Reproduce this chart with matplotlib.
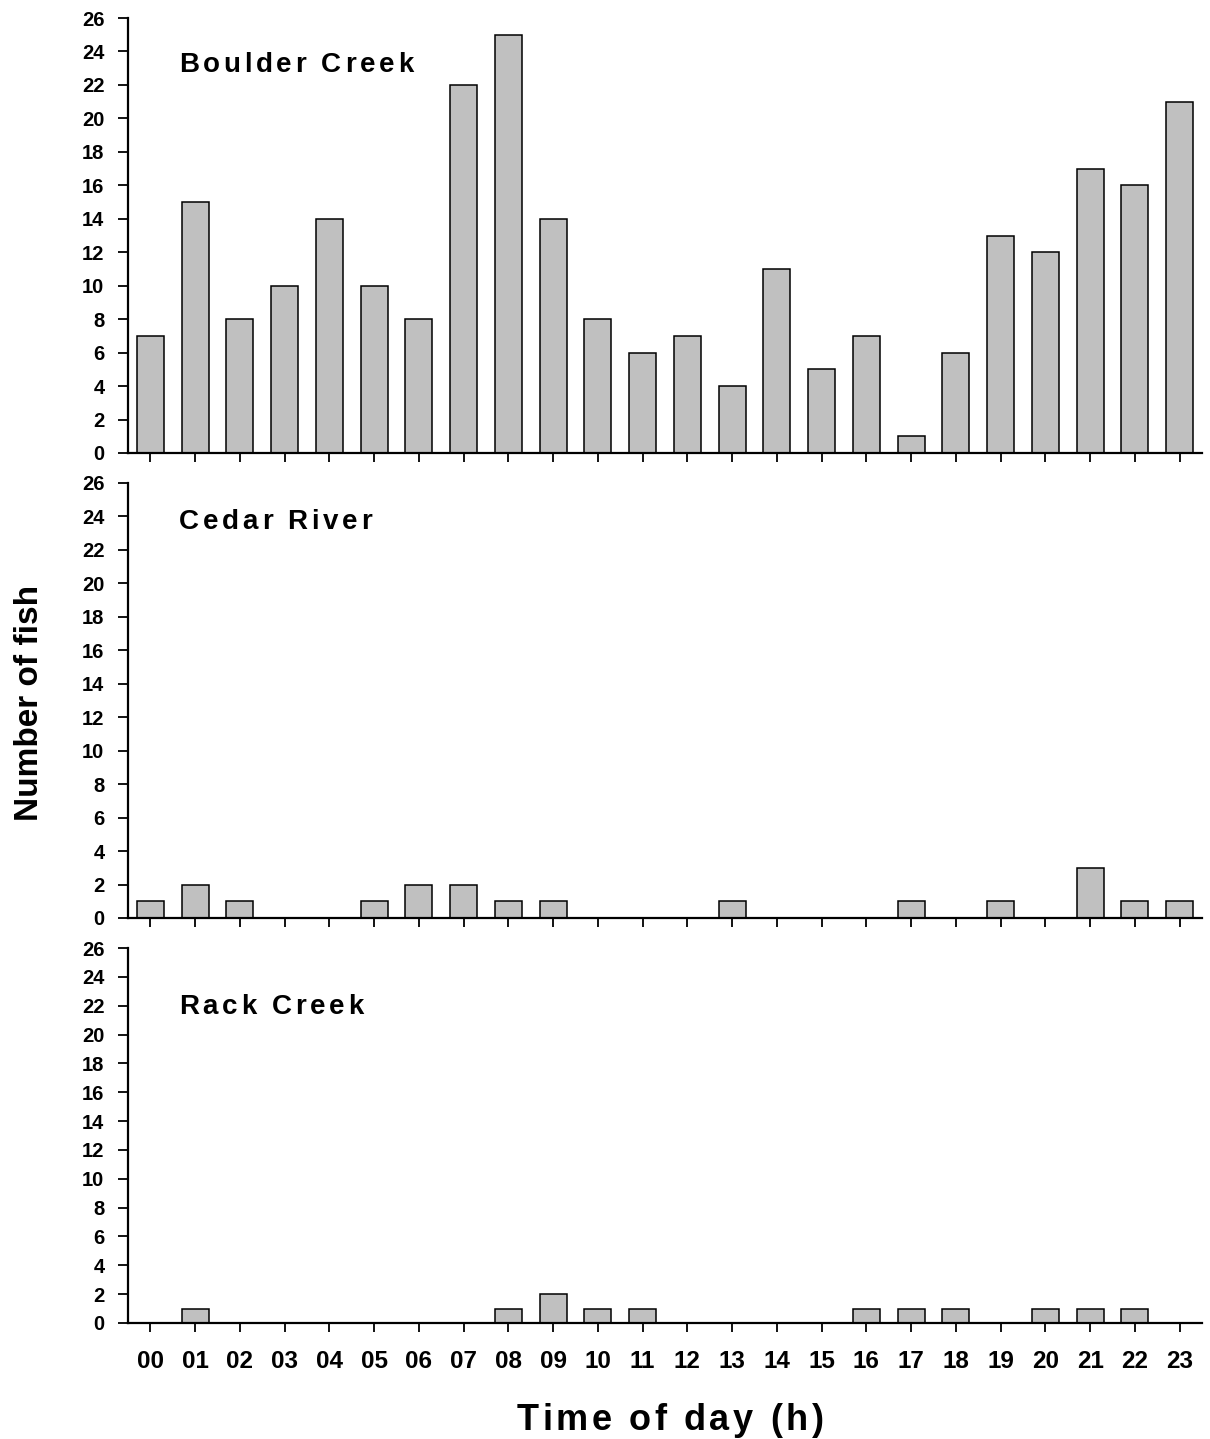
import matplotlib
matplotlib.use("Agg")
import matplotlib.pyplot as plt
import numpy as np

hours = ["00", "01", "02", "03", "04", "05", "06", "07", "08", "09", "10", "11",
         "12", "13", "14", "15", "16", "17", "18", "19", "20", "21", "22", "23"]
sites = ["Boulder Creek", "Cedar River", "Rack Creek"]
boulder_creek = [7, 15, 8, 10, 14, 10, 8, 22, 25, 14, 8, 6,
                 7, 4, 11, 5, 7, 1, 6, 13, 12, 17, 16, 21]
cedar_river = [1, 2, 1, 0, 0, 1, 2, 2, 1, 1, 0, 0,
               0, 1, 0, 0, 0, 1, 0, 1, 0, 3, 1, 1]
rack_creek = [0, 1, 0, 0, 0, 0, 0, 0, 1, 2, 1, 1,
              0, 0, 0, 0, 1, 1, 1, 0, 1, 1, 1, 0]
y_ticks = list(range(0, 27, 2))

plt.rcParams["font.family"] = ["Liberation Sans", "DejaVu Sans"]
plt.rcParams["font.weight"] = "bold"

W, H = 1210, 1439
fig = plt.figure(figsize=(W / 100, H / 100), dpi=100)

def px_axes(left, top, right, bottom):
    return fig.add_axes([left / W, 1 - bottom / H, (right - left) / W, (bottom - top) / H])

# panel frames in pixel units (left, top, right, bottom)
frames = [(128, 18, 1202, 453), (128, 483, 1202, 918), (128, 948, 1202, 1323)]
series = [boulder_creek, cedar_river, rack_creek]
title_y = [62, 519, 1004]

fig.canvas.draw()
renderer = fig.canvas.get_renderer()

def text_width(s, size):
    t = fig.text(0, 0, s + "x", fontsize=size, fontweight="bold")
    r = fig.text(0, 0, "x", fontsize=size, fontweight="bold")
    w = t.get_window_extent(renderer).width - r.get_window_extent(renderer).width
    t.remove()
    r.remove()
    return w

def tracked_text(s, x0, yc, size, track):
    """Draw text with extra letter spacing, left edge x0 and vertical center yc (pixels)."""
    for i, ch in enumerate(s):
        if ch == " ":
            continue
        x = x0 + text_width(s[:i], size) + i * track
        fig.text(x / W, 1 - yc / H, ch, fontsize=size, fontweight="bold",
                 ha="left", va="center_baseline")

x = np.arange(len(hours))
for k, (frame, vals) in enumerate(zip(frames, series)):
    ax = px_axes(*frame)
    ax.bar(x, vals, width=0.6, color="#c0c0c0", edgecolor="black", linewidth=1.1, zorder=2)
    ax.set_xlim(-0.5, 23.5)
    ax.set_ylim(0, 26)
    ax.set_yticks(y_ticks)
    ax.set_xticks(x)
    ax.spines["top"].set_visible(False)
    ax.spines["right"].set_visible(False)
    for sp in ("left", "bottom"):
        ax.spines[sp].set_linewidth(1.6)
    ax.tick_params(axis="y", direction="out", length=7, width=1.3, labelsize=14.5, pad=10)
    ax.tick_params(axis="x", direction="out", length=6.5, width=1.3, labelsize=17.5, pad=13)
    for lab in ax.get_yticklabels():
        lab.set_fontweight("bold")
    if k == 2:
        ax.set_xticklabels(hours, fontweight="bold")
    else:
        ax.set_xticklabels([])
    tracked_text(sites[k], 179, title_y[k], 20, 3.7)

# axis titles
tracked_text("Time of day (h)", 517, 1416, 26, 3.6)
fig.text(30 / W, 1 - 703 / H, "Number of fish", fontsize=24, fontweight="bold",
         rotation=90, ha="center", va="center")

fig.savefig("out.png", dpi=100)
